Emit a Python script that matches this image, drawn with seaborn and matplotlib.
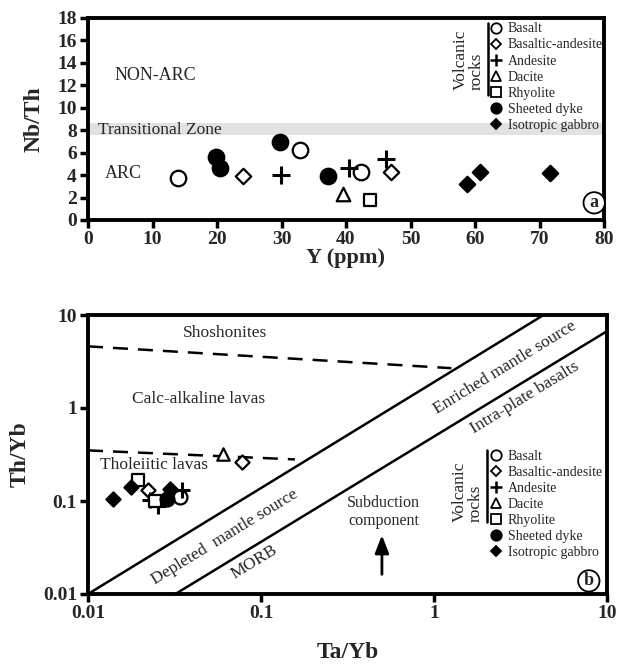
import numpy as np
import pandas as pd
import matplotlib
matplotlib.use("Agg")
import matplotlib.pyplot as plt
from matplotlib.lines import Line2D
import seaborn as sns

# ---------------- data: panel (a) Y (ppm) vs Nb/Th ----------------
a_basalt_x = [14.0, 32.9, 42.3]
a_basalt_y = [3.7, 6.2, 4.3]
a_basand_x = [24.0, 47.0]
a_basand_y = [3.9, 4.3]
a_andesite_x = [29.9, 40.4, 46.2]
a_andesite_y = [4.05, 4.6, 5.4]
a_dacite_x = [39.5]
a_dacite_y = [2.3]
a_rhyolite_x = [43.7]
a_rhyolite_y = [1.8]
a_dyke_x = [19.8, 20.5, 29.7, 37.2]
a_dyke_y = [5.6, 4.6, 6.95, 3.9]
a_gabbro_x = [58.7, 60.7, 71.7]
a_gabbro_y = [3.25, 4.3, 4.2]

# ---------------- data: panel (b) Ta/Yb vs Th/Yb ----------------
b_basalt_x = [0.034]
b_basalt_y = [0.111]
b_basand_x = [0.0223, 0.0773]
b_basand_y = [0.131, 0.26]
b_andesite_x = [0.0228, 0.0255, 0.0351]
b_andesite_y = [0.103, 0.088, 0.1325]
b_dacite_x = [0.0605]
b_dacite_y = [0.32]
b_rhyolite_x = [0.0195, 0.0244]
b_rhyolite_y = [0.168, 0.099]
b_dyke_x = [0.0285]
b_dyke_y = [0.105]
b_gabbro_x = [0.014, 0.0177, 0.0298]
b_gabbro_y = [0.104, 0.143, 0.136]

# boundary lines (b)
upper_dash_x = [0.01, 1.26]
upper_dash_y = [4.6, 2.68]
lower_dash_x = [0.01, 0.157]
lower_dash_y = [0.35, 0.28]
array1_x = [0.01, 4.3]
array1_y = [0.01, 10]
array2_x = [0.032, 10]
array2_y = [0.01, 6.7]

labels = ["Basalt", "Basaltic-andesite", "Andesite", "Dacite", "Rhyolite",
          "Sheeted dyke", "Isotropic gabbro"]

sns.set_theme(style="white")
plt.rcParams["font.family"] = ["Liberation Serif", "DejaVu Serif"]
plt.rcParams["mathtext.fontset"] = "stix"

styles = {
    "Basalt": dict(marker="o", fc="white"),
    "Basaltic-andesite": dict(marker="D", fc="white"),
    "Andesite": dict(marker="+", fc="black"),
    "Dacite": dict(marker="^", fc="white"),
    "Rhyolite": dict(marker="s", fc="white"),
    "Sheeted dyke": dict(marker="o", fc="black"),
    "Isotropic gabbro": dict(marker="D", fc="black"),
}

def frame(xs, ys, names):
    rows = []
    for x, y, n in zip(xs, ys, names):
        for xi, yi in zip(x, y):
            rows.append({"x": xi, "y": yi, "rock": n})
    return pd.DataFrame(rows)

df_a = frame([a_basalt_x, a_basand_x, a_andesite_x, a_dacite_x, a_rhyolite_x, a_dyke_x, a_gabbro_x],
             [a_basalt_y, a_basand_y, a_andesite_y, a_dacite_y, a_rhyolite_y, a_dyke_y, a_gabbro_y], labels)
df_b = frame([b_basalt_x, b_basand_x, b_andesite_x, b_dacite_x, b_rhyolite_x, b_dyke_x, b_gabbro_x],
             [b_basalt_y, b_basand_y, b_andesite_y, b_dacite_y, b_rhyolite_y, b_dyke_y, b_gabbro_y], labels)

sizes_a = {"o": 125, "D": 62, "+": 170, "^": 95, "s": 85}
sizes_b = {"o": 100, "D": 52, "+": 140, "^": 80, "s": 70}

def draw_points(ax, df, sizes):
    for name in labels:
        sub = df[df["rock"] == name]
        st = styles[name]
        m = st["marker"]
        if m == "+":
            sns.scatterplot(data=sub, x="x", y="y", marker="+", s=sizes[m],
                            color="black", linewidth=2.2, ax=ax, legend=False, zorder=5)
        else:
            sns.scatterplot(data=sub, x="x", y="y", marker=m, s=sizes[m],
                            facecolor=st["fc"], edgecolor="black", linewidth=1.6,
                            ax=ax, legend=False, zorder=5)

def legend_handles():
    hs = []
    for name in labels:
        st = styles[name]
        if st["marker"] == "+":
            hs.append(Line2D([], [], ls="none", marker="+", color="black", ms=8, mew=1.8, label=name))
        else:
            ms = {"o": 7.5, "D": 5.5, "^": 6.5, "s": 6.5}[st["marker"]]
            hs.append(Line2D([], [], ls="none", marker=st["marker"], mfc=st["fc"], mec="black",
                             mew=1.3, ms=ms, label=name))
    return hs

def style_axes(ax):
    for sp in ax.spines.values():
        sp.set_visible(True)
        sp.set_linewidth(2.8)
        sp.set_color("black")
    ax.tick_params(axis="both", which="major", direction="out", length=6, width=2.5,
                   labelsize=14, color="black", pad=2, bottom=True, left=True)
    ax.tick_params(axis="both", which="minor", length=0)
    for lab in ax.get_xticklabels() + ax.get_yticklabels():
        lab.set_fontweight("bold")

fig = plt.figure(figsize=(6.3, 6.68), dpi=100)
ax1 = fig.add_axes([88 / 630, 1 - 220 / 668, 516 / 630, 202 / 668])
ax2 = fig.add_axes([88 / 630, 1 - 594 / 668, 519 / 630, 279 / 668])

# ---------------- panel (a) ----------------
ax1.axhspan(7.6, 8.6, color="#e2e2e2", lw=0, zorder=0)
draw_points(ax1, df_a, sizes_a)
ax1.set_xlim(0, 80)
ax1.set_ylim(0, 18)
ax1.set_xticks(np.arange(0, 81, 10))
ax1.set_yticks(np.arange(0, 19, 2))
style_axes(ax1)
ax1.set_xlabel("Y (ppm)", fontsize=16, fontweight="bold", labelpad=0)
ax1.set_ylabel("Nb/Th", fontsize=17, fontweight="bold", labelpad=9)
ax1.text(10.5, 12.9, "NON-ARC", fontsize=13, ha="center", va="center")
ax1.text(1.5, 8.05, "Transitional Zone", fontsize=12.5, ha="left", va="center", zorder=3)
ax1.text(5.5, 4.1, "ARC", fontsize=13, ha="center", va="center")
ax1.text(0.981, 0.085, "a", transform=ax1.transAxes, fontsize=13, fontweight="bold",
         ha="center", va="center",
         bbox=dict(boxstyle="circle,pad=0.12", fc="white", ec="black", lw=1.3))

leg1 = ax1.legend(handles=legend_handles(), loc="upper left", bbox_to_anchor=(0.777, 0.978),
                  frameon=False, fontsize=10, handlelength=1.0, handletextpad=0.35,
                  labelspacing=0.22, borderpad=0, borderaxespad=0)
ax1.text(0.768, 0.642, "Volcanic\nrocks", transform=ax1.transAxes, rotation=90,
         fontsize=12.5, ha="right", va="bottom", multialignment="left", linespacing=0.95)
ax1.plot([0.7746, 0.7746], [0.62, 0.975], transform=ax1.transAxes, color="black", lw=1.8,
         clip_on=False)

# ---------------- panel (b) ----------------
ax2.set_xscale("log")
ax2.set_yscale("log")
sns.lineplot(x=upper_dash_x, y=upper_dash_y, ax=ax2, color="black", lw=1.8,
             linestyle=(0, (6, 4)), legend=False)
sns.lineplot(x=lower_dash_x, y=lower_dash_y, ax=ax2, color="black", lw=1.8,
             linestyle=(0, (6, 4)), legend=False)
sns.lineplot(x=array1_x, y=array1_y, ax=ax2, color="black", lw=1.8, legend=False)
sns.lineplot(x=array2_x, y=array2_y, ax=ax2, color="black", lw=1.8, legend=False)
draw_points(ax2, df_b, sizes_b)
ax2.set_xlim(0.01, 10)
ax2.set_ylim(0.01, 10)
ax2.set_xticks([0.01, 0.1, 1, 10])
ax2.set_xticklabels(["0.01", "0.1", "1", "10"])
ax2.set_yticks([0.01, 0.1, 1, 10])
ax2.set_yticklabels(["0.01", "0.1", "1", "10"])
style_axes(ax2)
ax2.set_xlabel("Ta/Yb", fontsize=17, fontweight="bold", labelpad=14)
ax2.set_ylabel("Th/Yb", fontsize=17, fontweight="bold", labelpad=9)

ax2.text(0.062, 6.4, "Shoshonites", fontsize=12.5, ha="center", va="center")
ax2.text(0.0435, 1.24, "Calc-alkaline lavas", fontsize=12.5, ha="center", va="center")
ax2.text(0.0241, 0.244, "Tholeiitic lavas", fontsize=12.5, ha="center", va="center")
ax2.text(0.51, 0.076, "Subduction\ncomponent", fontsize=11.5, ha="center", va="center",
         linespacing=1.1)
ax2.annotate("", xy=(0.5, 0.046), xytext=(0.5, 0.0152),
             arrowprops=dict(arrowstyle="-|>,head_length=0.9,head_width=0.35",
                             color="black", lw=2))
rot = 31.5
ax2.text(0.062, 0.041, "Depleted  mantle source", fontsize=12.5, rotation=rot,
         rotation_mode="anchor", ha="center", va="center")
ax2.text(0.091, 0.0222, "MORB", fontsize=12.5, rotation=rot,
         rotation_mode="anchor", ha="center", va="center")
ax2.text(2.57, 2.69, "Enriched mantle source", fontsize=12.5, rotation=rot,
         rotation_mode="anchor", ha="center", va="center")
ax2.text(3.36, 1.28, "Intra-plate basalts", fontsize=12.5, rotation=rot,
         rotation_mode="anchor", ha="center", va="center")
ax2.text(0.965, 0.047, "b", transform=ax2.transAxes, fontsize=13, fontweight="bold",
         ha="center", va="center",
         bbox=dict(boxstyle="circle,pad=0.12", fc="white", ec="black", lw=1.3))

leg2 = ax2.legend(handles=legend_handles(), loc="upper left", bbox_to_anchor=(0.773, 0.517),
                  frameon=False, fontsize=10, handlelength=1.0, handletextpad=0.35,
                  labelspacing=0.22, borderpad=0, borderaxespad=0)
ax2.text(0.762, 0.259, "Volcanic\nrocks", transform=ax2.transAxes, rotation=90,
         fontsize=12.5, ha="right", va="bottom", multialignment="left", linespacing=0.95)
ax2.plot([0.7694, 0.7694], [0.259, 0.516], transform=ax2.transAxes, color="black", lw=1.8,
         clip_on=False)

fig.savefig("out.png", dpi=100)
